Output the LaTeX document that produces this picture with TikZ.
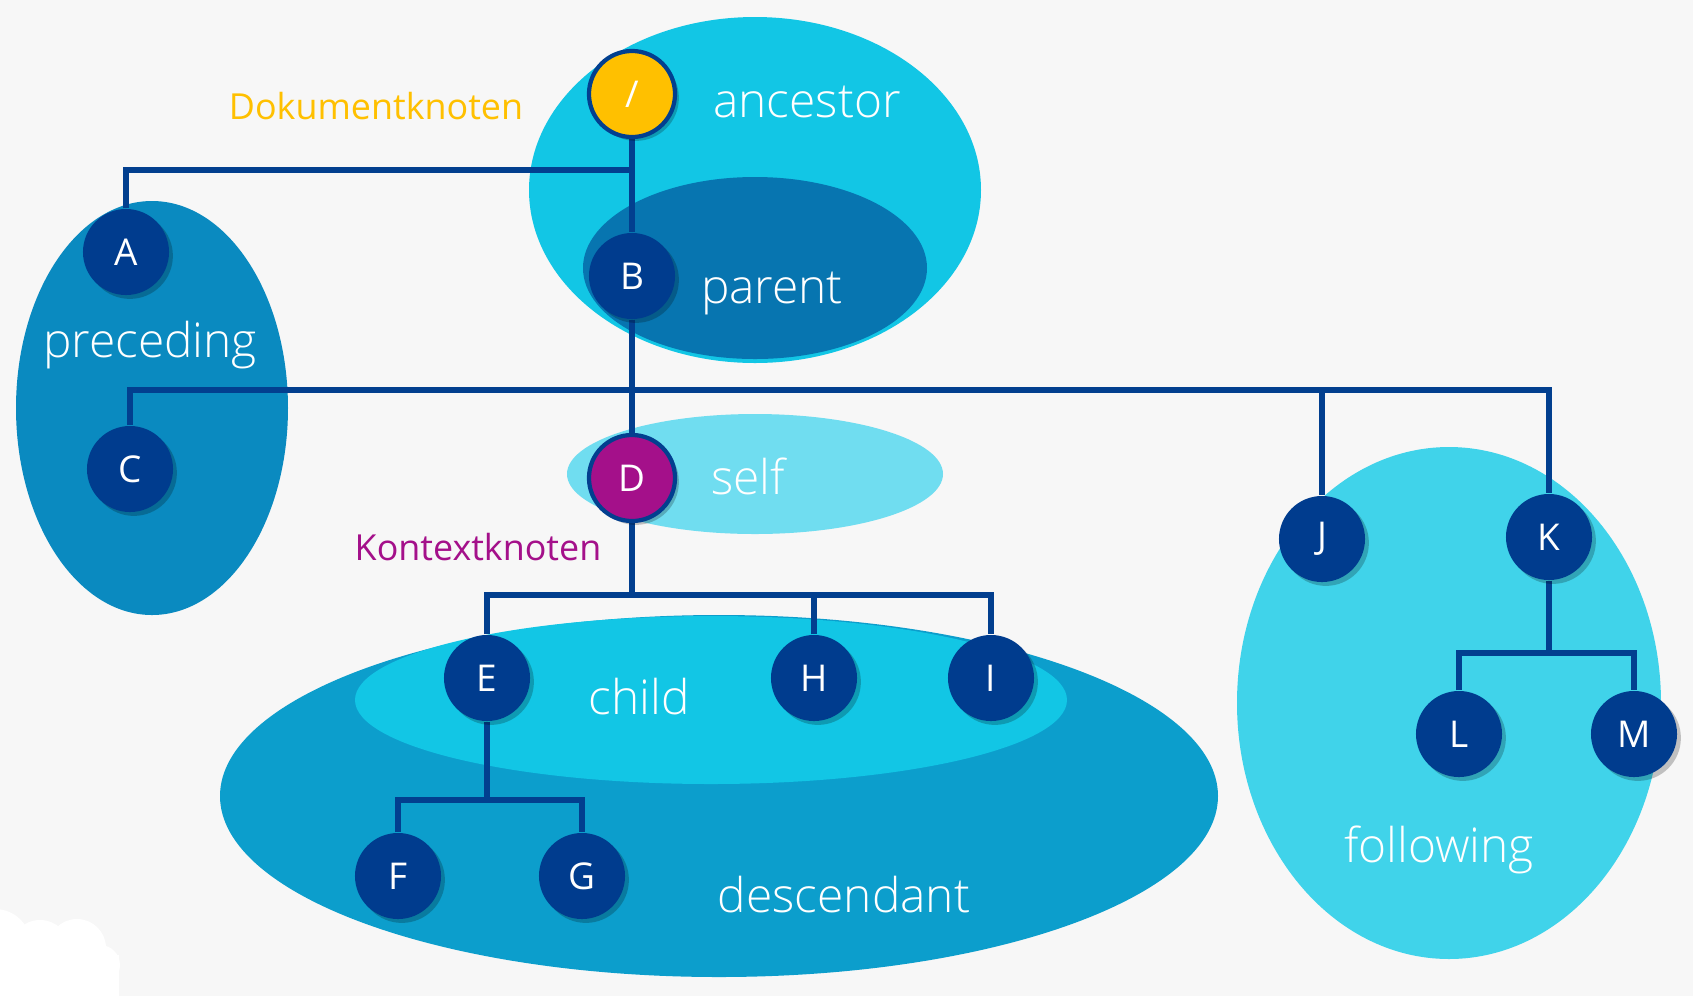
\documentclass[tikz,border=0pt]{standalone}
\usepackage{fontspec}
\setmainfont{Open Sans}
\newfontfamily\thinfont{Open Sans Light}
\usetikzlibrary{shadows}
\definecolor{bggrey}{HTML}{F7F7F7}
\definecolor{ancestorcol}{HTML}{12C6E5}
\definecolor{parentcol}{HTML}{0775B0}
\definecolor{precedingcol}{HTML}{0A8AC0}
\definecolor{selfcol}{HTML}{70DDF0}
\definecolor{descendantcol}{HTML}{0C9ECC}
\definecolor{childcol}{HTML}{12C6E5}
\definecolor{followingcol}{HTML}{40D3EA}
\definecolor{knotcol}{HTML}{003C8E}
\definecolor{linecol}{HTML}{023F8F}
\definecolor{rootcol}{HTML}{FFC000}
\definecolor{contextcol}{HTML}{A4108A}
\pgfdeclarelayer{bg}
\pgfdeclarelayer{lines}
\pgfsetlayers{bg,lines,main}
\tikzset{
  knot/.style={circle, fill=knotcol, minimum size=0.86cm, inner sep=0pt,
    text=white, font=\fontsize{10.5}{12}\selectfont,
    drop shadow={shadow xshift=1.1pt, shadow yshift=-1.1pt, opacity=0.22, fill=black}},
  axis/.style={text=white, font=\thinfont\fontsize{13.6}{15}\selectfont},
  edge/.style={draw=linecol, line width=1.6pt}
}
\begin{document}
\begin{tikzpicture}[x=0.01cm, y=0.01cm]
\useasboundingbox (0,0) rectangle (1693,-996);
\node [knot, fill=rootcol, draw=linecol, line width=1.2pt] (root) at (632,-94) {/};
\node [knot] (A) at (126,-252) {A};
\node [knot] (B) at (632,-276) {B};
\node [knot] (C) at (130,-469) {C};
\node [knot, fill=contextcol, draw=linecol, line width=1.2pt] (D) at (632,-478) {D};
\node [knot] (E) at (487,-678) {E};
\node [knot] (H) at (814,-678) {H};
\node [knot] (I) at (991,-678) {I};
\node [knot] (F) at (398,-876) {F};
\node [knot] (G) at (582,-876) {G};
\node [knot] (J) at (1322,-539) {J};
\node [knot] (K) at (1549,-537) {K};
\node [knot] (L) at (1459,-734) {L};
\node [knot] (M) at (1634,-734) {M};
\coordinate (jroot) at (632,-170);
\coordinate (jB) at (632,-390);
\coordinate (jD) at (632,-595);
\coordinate (jE) at (487,-800);
\coordinate (jK) at (1549,-653);
\begin{pgfonlayer}{bg}
\fill [bggrey] (0,0) rectangle (1693,-996);
\begin{scope}
\clip (0,0) rectangle (1693,-996);
\fill [white] (-5,-945) circle (36);
\fill [white] (40,-950) circle (30);
\fill [white] (77,-948) circle (29);
\fill [white] (100,-965) circle (20);
\fill [white] (0,-955) rectangle (119,-996);
\end{scope}
\fill [ancestorcol] (755,-190) ellipse (226 and 173);
\fill [parentcol] (755,-268) ellipse (172 and 91);
\fill [precedingcol] (152,-408) ellipse (136 and 207);
\fill [selfcol] (755,-474) ellipse (188 and 60);
\fill [descendantcol] (719,-796) ellipse (499 and 181);
\fill [childcol] (711,-700) ellipse (356 and 84);
\fill [followingcol] (1449,-703) ellipse (212 and 256);
\end{pgfonlayer}
\begin{pgfonlayer}{lines}
\draw [edge] (root) -- (B);
\draw [edge] (A) |- (jroot);
\draw [edge] (B) -- (D);
\draw [edge] (C) |- (jB) -| (K);
\draw [edge] (J) -- (J |- jB);
\draw [edge] (D) -- (jD);
\draw [edge] (E) |- (jD) -| (I);
\draw [edge] (H) -- (H |- jD);
\draw [edge] (E) -- (jE);
\draw [edge] (F) |- (jE) -| (G);
\draw [edge] (K) -- (jK);
\draw [edge] (L) |- (jK) -| (M);
\end{pgfonlayer}
\node [axis] (ancestorlbl) at (807,-102) {ancestor};
\node [axis] (parentlbl) at (772,-293) {parent};
\node [axis] (precedinglbl) at (150,-345) {preceding};
\node [axis] (selflbl) at (748,-476) {self};
\node [axis] (childlbl) at (639,-697) {child};
\node [axis] (descendantlbl) at (844,-895) {descendant};
\node [axis] (followinglbl) at (1439,-850) {following};
\node [text=rootcol, font=\fontsize{10.2}{12}\selectfont] (doklbl) at (376,-106) {Dokumentknoten};
\node [text=contextcol, font=\fontsize{10.2}{12}\selectfont] (ctxlbl) at (478,-547) {Kontextknoten};
\end{tikzpicture}
\end{document}
